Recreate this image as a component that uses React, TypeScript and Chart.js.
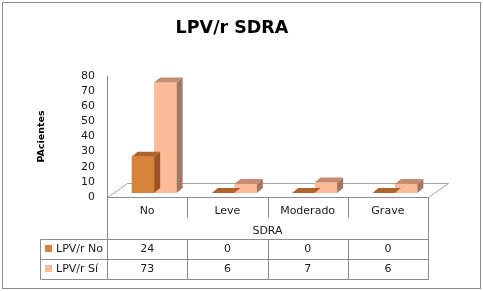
import React, { useEffect, useRef } from 'react';
import { Chart, registerables } from 'chart.js';

Chart.register(...registerables);

const titleText = 'LPV/r SDRA';
const yTitle = 'PAcientes';
const xTitle = 'SDRA';
const categories = ['No', 'Leve', 'Moderado', 'Grave'];
const seriesLabels = ['LPV/r No', 'LPV/r Sí'];
const lpvNo = [24, 0, 0, 0];
const lpvSi = [73, 6, 7, 6];
const yMin = 0;
const yMax = 80;
const yStep = 10;

const FONT = '"DejaVu Sans", sans-serif';
const TEXT = '#1a1a1a';
const LINE = '#8c8c8c';
const FLOOR_LINE = '#a6a6a6';
const FRONT = ['#d6843a', '#fabb96'];
const TOP = ['#b0642c', '#c68c70'];
const SIDE = ['#9a5626', '#a47660'];
const DEPTH = { dx: 6, dy: -5 };
const SHIFT = { dx: 7, dy: -4 };
const FLOOR = { dx: 20, dy: -14 };

const px = (v: number) => Math.round(v) + 0.5;

const excel3d = {
  id: 'excel3d',
  beforeDraw(chart: any) {
    const { ctx, width, height } = chart;
    ctx.save();
    ctx.fillStyle = '#ffffff';
    ctx.fillRect(0, 0, width, height);
    ctx.restore();
  },
  beforeDatasetsDraw(chart: any) {
    const { ctx, chartArea: a } = chart;
    ctx.save();
    ctx.strokeStyle = FLOOR_LINE;
    ctx.lineWidth = 1;
    ctx.beginPath();
    ctx.moveTo(px(a.left), px(a.bottom));
    ctx.lineTo(px(a.left + FLOOR.dx), px(a.bottom + FLOOR.dy));
    ctx.lineTo(px(a.right + FLOOR.dx), px(a.bottom + FLOOR.dy));
    ctx.lineTo(px(a.right), px(a.bottom));
    ctx.stroke();
    ctx.restore();
    ctx.save();
    ctx.translate(SHIFT.dx, SHIFT.dy);
  },
  afterDatasetDraw(chart: any, args: any) {
    const { ctx } = chart;
    const i = args.index;
    const meta = args.meta;
    meta.data.forEach((el: any) => {
      const { x, y, base, width } = el.getProps(['x', 'y', 'base', 'width'], true);
      const l = x - width / 2;
      const r = x + width / 2;
      ctx.save();
      ctx.fillStyle = SIDE[i];
      ctx.beginPath();
      ctx.moveTo(r, y);
      ctx.lineTo(r + DEPTH.dx, y + DEPTH.dy);
      ctx.lineTo(r + DEPTH.dx, base + DEPTH.dy);
      ctx.lineTo(r, base);
      ctx.closePath();
      ctx.fill();
      ctx.fillStyle = TOP[i];
      ctx.beginPath();
      ctx.moveTo(l, y);
      ctx.lineTo(r, y);
      ctx.lineTo(r + DEPTH.dx, y + DEPTH.dy);
      ctx.lineTo(l + DEPTH.dx, y + DEPTH.dy);
      ctx.closePath();
      ctx.fill();
      ctx.restore();
    });
  },
  afterDatasetsDraw(chart: any) {
    chart.ctx.restore();
  },
  afterDraw(chart: any) {
    const { ctx, chartArea: a, width, height } = chart;
    const xs = chart.scales.x;
    const L = a.left;
    const R = a.right;
    const B = a.bottom;
    const catBottom = B + 20;
    const sdraBottom = B + 42;
    const row1Bottom = B + 62;
    const row2Bottom = B + 82;
    const legendLeft = 40;
    const centers = categories.map((_, i) => xs.getPixelForValue(i));
    const bounds = centers.slice(0, -1).map((c, i) => (c + centers[i + 1]) / 2);

    ctx.save();
    ctx.strokeStyle = LINE;
    ctx.lineWidth = 1;
    ctx.beginPath();
    ctx.moveTo(px(L), px(B));
    ctx.lineTo(px(R), px(B));
    ctx.moveTo(px(L), px(B));
    ctx.lineTo(px(L), px(row2Bottom));
    ctx.moveTo(px(R), px(B));
    ctx.lineTo(px(R), px(row2Bottom));
    bounds.forEach((b) => {
      ctx.moveTo(px(b), px(B));
      ctx.lineTo(px(b), px(catBottom));
      ctx.moveTo(px(b), px(sdraBottom));
      ctx.lineTo(px(b), px(row2Bottom));
    });
    [sdraBottom, row1Bottom, row2Bottom].forEach((y) => {
      ctx.moveTo(px(legendLeft), px(y));
      ctx.lineTo(px(R), px(y));
    });
    ctx.moveTo(px(legendLeft), px(sdraBottom));
    ctx.lineTo(px(legendLeft), px(row2Bottom));
    ctx.stroke();

    ctx.fillStyle = TEXT;
    ctx.font = `11px ${FONT}`;
    ctx.textAlign = 'center';
    ctx.textBaseline = 'middle';
    categories.forEach((c, i) => ctx.fillText(c, centers[i], B + 14));
    ctx.fillText(xTitle, (L + R) / 2, B + 34);
    const rows = [lpvNo, lpvSi];
    rows.forEach((vals, r) => {
      const yc = B + 52 + r * 20;
      vals.forEach((v, i) => ctx.fillText(String(v), centers[i], yc));
      ctx.fillStyle = FRONT[r];
      ctx.fillRect(45, Math.round(yc) - 4, 7, 7);
      ctx.fillStyle = TEXT;
      ctx.textAlign = 'left';
      ctx.fillText(seriesLabels[r], 56, yc);
      ctx.textAlign = 'center';
    });

    ctx.strokeStyle = LINE;
    ctx.strokeRect(2.5, 2.5, width - 5, height - 5);
    ctx.restore();
  },
};

export default function App() {
  const ref = useRef<HTMLCanvasElement | null>(null);
  useEffect(() => {
    if (!ref.current) return;
    const chart = new Chart(ref.current, {
      type: 'bar',
      data: {
        labels: categories,
        datasets: [
          { label: seriesLabels[0], data: lpvNo, backgroundColor: FRONT[0], borderWidth: 0, clip: false as any },
          { label: seriesLabels[1], data: lpvSi, backgroundColor: FRONT[1], borderWidth: 0, clip: false as any },
        ],
      },
      options: {
        responsive: false,
        animation: false,
        devicePixelRatio: 1,
        layout: { padding: { left: 36, right: 55, top: 0, bottom: 94 } },
        datasets: { bar: { categoryPercentage: 0.56, barPercentage: 1 } },
        plugins: {
          legend: { display: false },
          tooltip: { enabled: false },
          title: {
            display: true,
            text: titleText,
            color: '#000',
            font: { family: FONT, size: 17.5, weight: 'bold' },
            padding: { top: 18, bottom: 37 },
          },
        },
        scales: {
          x: { display: false, offset: true, grid: { display: false } },
          y: {
            min: yMin,
            max: yMax,
            ticks: {
              stepSize: yStep,
              autoSkip: false,
              color: TEXT,
              padding: 12,
              font: { family: FONT, size: 11 },
            },
            grid: { display: false, drawTicks: false },
            border: { display: true, color: LINE, width: 1 },
            title: {
              display: true,
              text: yTitle,
              color: '#000',
              font: { family: FONT, size: 9.5, weight: 'bold' },
              padding: { top: 0, bottom: 0 },
            },
            afterFit: (scale: any) => {
              scale.width = 71;
            },
          },
        },
      } as any,
      plugins: [excel3d],
    });
    return () => chart.destroy();
  }, []);
  return (
    <div style={{ position: 'fixed', left: 0, top: 0, width: 483, height: 291, background: '#fff' }}>
      <canvas ref={ref} width={483} height={291} style={{ display: 'block' }} />
    </div>
  );
}
